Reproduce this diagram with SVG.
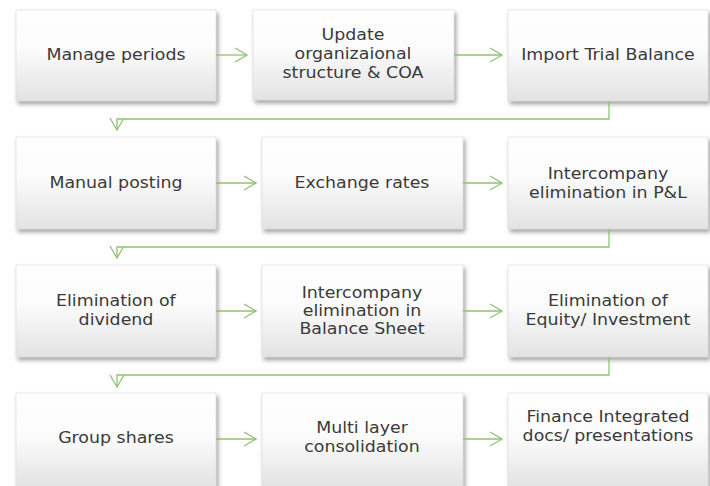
<svg xmlns="http://www.w3.org/2000/svg" width="710" height="486" viewBox="0 0 710 486">
<defs>
<linearGradient id="g" x1="0" y1="0" x2="0" y2="1">
<stop offset="0" stop-color="#ffffff"/>
<stop offset="0.45" stop-color="#fbfbfb"/>
<stop offset="1" stop-color="#e2e2e2"/>
</linearGradient>
<filter id="sh" x="-10%" y="-10%" width="125%" height="130%">
<feDropShadow dx="2" dy="3" stdDeviation="2" flood-color="#555" flood-opacity="0.55"/>
</filter>
<marker id="ah" markerWidth="16" markerHeight="16" refX="13" refY="8" orient="auto" markerUnits="userSpaceOnUse">
<path d="M1,1 L13,8 L1,15" fill="none" stroke="#8fc370" stroke-width="1.3"/>
</marker>
</defs>
<style>
.box{fill:url(#g);stroke:#d9d9d9;stroke-width:0.6;filter:url(#sh)}
.t{font-family:"DejaVu Sans","Open Sans",sans-serif;font-size:15px;fill:#3a3a3a;text-anchor:middle;transform-box:fill-box;transform-origin:center;transform:scaleX(1.16)}
.c{fill:none;stroke:#8fc370;stroke-width:1.3;marker-end:url(#ah)}
</style>
<rect width="710" height="486" fill="#ffffff"/>
<g id="n1"><rect class="box" x="16" y="10" width="200" height="91"/><text class="t" x="116" y="60">Manage periods</text></g>
<g id="n2"><rect class="box" x="253" y="10" width="201" height="90"/><text class="t" x="353" y="40">Update</text><text class="t" x="353" y="59">organizaional</text><text class="t" x="353" y="78">structure &amp; COA</text></g>
<g id="n3"><rect class="box" x="508" y="10" width="200" height="91"/><text class="t" x="608" y="60">Import Trial Balance</text></g>
<g id="n4"><rect class="box" x="16" y="137" width="200" height="92"/><text class="t" x="116" y="188">Manual posting</text></g>
<g id="n5"><rect class="box" x="262" y="137" width="201" height="92"/><text class="t" x="362" y="188">Exchange rates</text></g>
<g id="n6"><rect class="box" x="508" y="137" width="200" height="92"/><text class="t" x="608" y="179">Intercompany</text><text class="t" x="608" y="198">elimination in P&amp;L</text></g>
<g id="n7"><rect class="box" x="16" y="265" width="200" height="92"/><text class="t" x="116" y="306">Elimination of</text><text class="t" x="116" y="325">dividend</text></g>
<g id="n8"><rect class="box" x="262" y="265" width="201" height="92"/><text class="t" x="362" y="298">Intercompany</text><text class="t" x="362" y="316">elimination in</text><text class="t" x="362" y="334">Balance Sheet</text></g>
<g id="n9"><rect class="box" x="508" y="265" width="200" height="92"/><text class="t" x="608" y="306">Elimination of</text><text class="t" x="608" y="325">Equity/ Investment</text></g>
<g id="n10"><rect class="box" x="16" y="393" width="200" height="96"/><text class="t" x="116" y="443">Group shares</text></g>
<g id="n11"><rect class="box" x="262" y="393" width="201" height="96"/><text class="t" x="362" y="433">Multi layer</text><text class="t" x="362" y="452">consolidation</text></g>
<g id="n12"><rect class="box" x="508" y="393" width="200" height="96"/><text class="t" x="608" y="422">Finance Integrated</text><text class="t" x="608" y="441">docs/ presentations</text></g>
<g id="connectors">
<path class="c" d="M216,55 H247"/>
<path class="c" d="M454,55 H502"/>
<path class="c" d="M609,101 V119 H117 V130"/>
<path class="c" d="M216,183 H256"/>
<path class="c" d="M463,183 H502"/>
<path class="c" d="M609,229 V247 H117 V258"/>
<path class="c" d="M216,311 H256"/>
<path class="c" d="M463,311 H502"/>
<path class="c" d="M609,357 V375 H117 V387"/>
<path class="c" d="M216,439 H256"/>
<path class="c" d="M463,439 H502"/>
</g>
</svg>
